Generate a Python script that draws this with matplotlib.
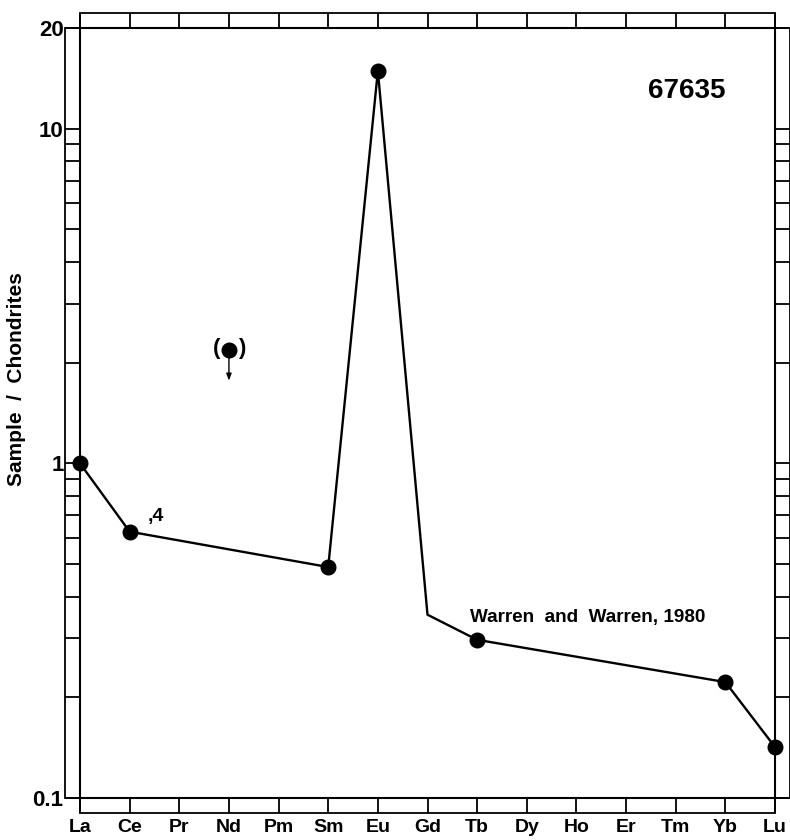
import matplotlib
matplotlib.use("Agg")
import matplotlib.pyplot as plt
from matplotlib.patches import Rectangle
from matplotlib.ticker import FixedLocator, NullFormatter, FixedFormatter

plt.rcParams['font.family'] = ['Liberation Sans', 'DejaVu Sans']

elements = ["La", "Ce", "Pr", "Nd", "Pm", "Sm", "Eu", "Gd", "Tb", "Dy", "Ho", "Er", "Tm", "Yb", "Lu"]
# measured points (marker) and line vertices
line_elems = ["La", "Ce", "Sm", "Eu", "Gd", "Tb", "Yb", "Lu"]
line_vals = [1.0, 0.625, 0.49, 14.9, 0.353, 0.297, 0.222, 0.142]
marker_elems = ["La", "Ce", "Sm", "Eu", "Tb", "Yb", "Lu"]
marker_vals = [1.0, 0.625, 0.49, 14.9, 0.297, 0.222, 0.142]
upper_elem = "Nd"
upper_val = 2.18
y_ticks = [0.1, 1, 10, 20]
y_ticklabels = ["0.1", "1", "10", "20"]

W, H = 790, 840
fig = plt.figure(figsize=(W / 100, H / 100), dpi=100)
L, R, T, B = 80, 775, 28, 798
ax = fig.add_axes([L / W, 1 - B / H, (R - L) / W, (B - T) / H])

idx = {e: i for i, e in enumerate(elements)}
lx = [idx[e] for e in line_elems]
mx = [idx[e] for e in marker_elems]

ax.plot(lx, line_vals, color='black', lw=1.7, clip_on=False, zorder=3)
ax.plot(mx, marker_vals, 'o', color='black', ms=10.5, clip_on=False, zorder=4)

# upper-limit point
ux = idx[upper_elem]
ax.plot([ux], [upper_val], 'o', color='black', ms=10.5, zorder=4)
ax.annotate("", xy=(ux, upper_val), xytext=(0, -22), textcoords='offset points',
            arrowprops=dict(arrowstyle='<|-,head_width=0.15,head_length=0.4', color='black',
                            lw=1.0, shrinkA=0, shrinkB=0))
ax.annotate("(", xy=(ux, upper_val), xytext=(-9, 1), textcoords='offset points',
            ha='center', va='center', fontsize=16, fontweight='bold')
ax.annotate(")", xy=(ux, upper_val), xytext=(9, 1), textcoords='offset points',
            ha='center', va='center', fontsize=16, fontweight='bold')

ax.set_yscale('log')
ax.set_ylim(0.1, 20)
ax.set_xlim(0, len(elements) - 1)

# ticks forming the strips
ax.xaxis.set_major_locator(FixedLocator(range(len(elements))))
ax.set_xticklabels(elements, fontsize=14, fontweight='bold')
ax.yaxis.set_major_locator(FixedLocator(y_ticks))
ax.yaxis.set_major_formatter(FixedFormatter(y_ticklabels))
ax.yaxis.set_minor_locator(FixedLocator([m * d for d in (0.1, 1) for m in range(2, 10)]))
ax.yaxis.set_minor_formatter(NullFormatter())
tl = 15 * 72 / 100
ax.tick_params(which='both', direction='out', length=tl, width=1.3, color='black',
               top=True, right=True)
ax.tick_params(axis='x', pad=4, labelsize=14)
ax.tick_params(axis='y', pad=1, labelsize=16)
for lab in ax.get_yticklabels():
    lab.set_fontweight('bold')
for s in ax.spines.values():
    s.set_linewidth(1.5)

# outer strip borders
sw = 15 / (R - L)
sh = 15 / (B - T)
for rect in [(-sw, 0, sw, 1), (1, 0, sw, 1), (0, 1, 1, sh), (0, -sh, 1, sh)]:
    ax.add_patch(Rectangle(rect[:2], rect[2], rect[3], transform=ax.transAxes,
                           fill=False, lw=1.3, ec='black', clip_on=False))

ax.text(0.929, 0.918, "67635", transform=ax.transAxes, ha='right', va='center',
        fontsize=20, fontweight='bold')
ax.annotate(",4", xy=(idx["Ce"], line_vals[1]), xytext=(13, 11), textcoords='offset points',
            ha='left', va='center', fontsize=14, fontweight='bold')
ax.annotate("Warren  and  Warren, 1980", xy=(idx["Tb"], 0.297), xytext=(-5, 16),
            textcoords='offset points', ha='left', va='center', fontsize=13.6, fontweight='bold')

fig.text(17 / W, 1 - 379 / H, "Sample  /  Chondrites", rotation=90, ha='center', va='center',
         fontsize=15, fontweight='bold')

fig.savefig("out.png", dpi=100)
